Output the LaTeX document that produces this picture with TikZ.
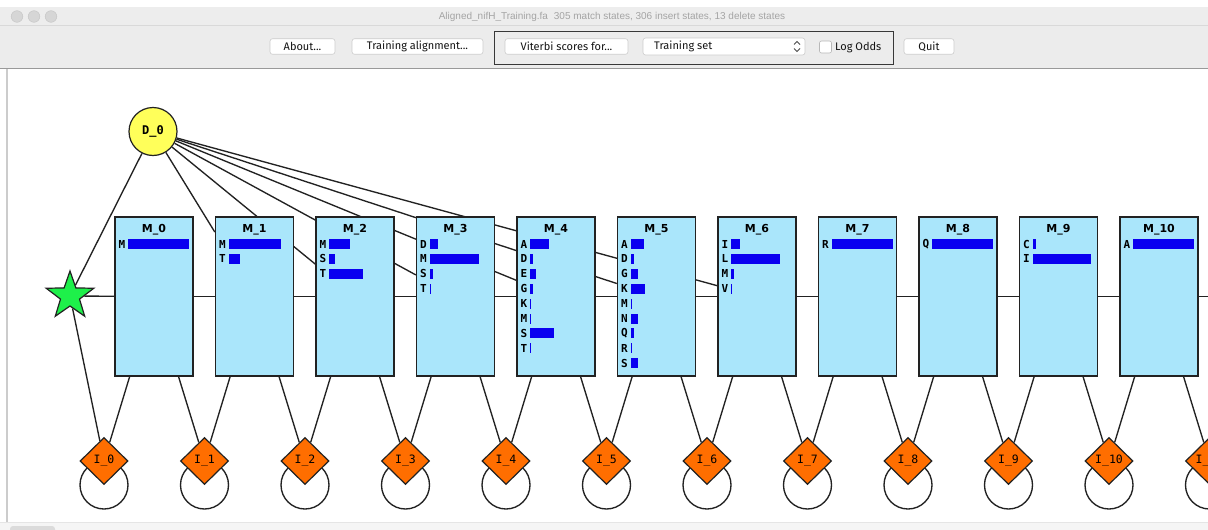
\documentclass[tikz,border=0pt]{standalone}
\usepackage{fontspec}
\setmainfont{Fira Sans}
\newfontfamily\monofont{DejaVu Sans Mono}
\newfontfamily\headfont{DejaVu Sans}
\newfontfamily\windowfont{Liberation Sans}
\usetikzlibrary{shapes.geometric}

\definecolor{boxfill}{HTML}{AAE6FB}
\definecolor{barblue}{HTML}{0A00F0}
\definecolor{delfill}{HTML}{FFFF5A}
\definecolor{insfill}{HTML}{FF6E00}
\definecolor{startfill}{HTML}{1EF04A}
\definecolor{panel}{HTML}{ECECEC}
\definecolor{titlegray}{HTML}{A4A4A4}
\definecolor{edge}{HTML}{222222}

\pgfdeclarelayer{chrome}
\pgfdeclarelayer{links}
\pgfsetlayers{chrome,links,main}

\tikzset{
  matchbox/.style={rectangle, draw=edge, line width=1.4pt, fill=boxfill,
    minimum width=78pt, minimum height=159pt, inner sep=0pt},
  delstate/.style={circle, draw=edge, line width=1.2pt, fill=delfill,
    minimum size=48pt, inner sep=0pt,
    font=\monofont\bfseries\fontsize{12}{14}\selectfont},
  insstate/.style={diamond, draw=edge, line width=1.2pt, fill=insfill,
    minimum width=48pt, minimum height=47pt, inner sep=0pt,
    font=\monofont\fontsize{11.5}{13}\selectfont},
  startstate/.style={star, star points=5, star point ratio=2.5,
    minimum size=50pt, inner sep=0pt, draw=edge, line width=1.2pt,
    fill=startfill},
  link/.style={draw=edge, line width=1.35pt},
  boxtitle/.style={inner sep=0pt, font=\headfont\bfseries\fontsize{11}{13}\selectfont},
  residue/.style={inner sep=0pt, font=\monofont\bfseries\fontsize{11}{13}\selectfont},
  btn/.style={rectangle, draw=black!20, fill=white, rounded corners=2.5pt,
    line width=0.6pt, inner sep=0pt, minimum height=15.5pt,
    font=\fontsize{11}{13}\selectfont, text=black!92},
  tbtext/.style={inner sep=0pt, font=\fontsize{11}{13}\selectfont, text=black!92},
}

\begin{document}
\begin{tikzpicture}[x=1pt,y=-1pt]
\useasboundingbox (0,0) rectangle (1208,530);

% ---------- window frame, title bar and toolbar ----------
\begin{pgfonlayer}{chrome}
  \fill[panel] (0,0) rectangle (1208,530);
  \fill[white] (0,0) rectangle (1208,7);
  \fill[black!7] (0,7) rectangle (1208,25);
  \draw[black!15, line width=0.8pt] (0,25.5) -- (1208,25.5);
  \foreach \tx in {17,34,51}
    \filldraw[fill=black!16, draw=black!22, line width=0.5pt] (\tx,16.5) circle[radius=5.8pt];
  \node[inner sep=0pt, text=titlegray, font=\windowfont\fontsize{10}{12}\selectfont]
    (wintitle) at (612,17)
    {Aligned\_nifH\_Training.fa\hspace{6pt}305 match states, 306 insert states, 13 delete states};

  \node[btn, minimum width=65pt] (about) at (302.5,46.5) {About...};
  \node[btn, minimum width=131pt] (trainaln) at (417.5,46.5) {Training alignment...};
  \draw[black!78, line width=1pt] (494,31) rectangle (893,64);
  \node[btn, minimum width=123pt] (viterbi) at (566.5,46.5) {Viterbi scores for...};
  \node[btn, minimum width=162pt, minimum height=17pt] (setmenu) at (724,46.5) {};
  \node[tbtext, anchor=west] (setlabel) at (654,46.5) {Training set};
  \draw[black!70, line width=0.8pt] (794,44.5) -- (797,41.5) -- (800,44.5);
  \draw[black!70, line width=0.8pt] (794,48.5) -- (797,51.5) -- (800,48.5);
  \node[rectangle, draw=black!28, fill=white, rounded corners=2pt, line width=0.6pt,
    minimum size=12pt, inner sep=0pt] (logbox) at (825.5,47) {};
  \node[tbtext, anchor=west] (loglabel) at (835,47.5) {Log Odds};
  \node[btn, minimum width=50pt] (quit) at (929,46.5) {Quit};
  \draw[black!40, line width=1pt] (0,68.5) -- (1208,68.5);

  % drawing canvas
  \fill[white] (0,69) rectangle (1208,522);
  \draw[black!20, line width=1.6pt] (7,69) -- (7,522);
  \fill[black!4] (0,522) rectangle (1208,530);
  \draw[black!10, line width=0.6pt] (0,522) -- (1208,522);
  \fill[black!14, rounded corners=3pt] (10,526) rectangle (55,536);
\end{pgfonlayer}

% ---------- states ----------
\node[delstate] (d0) at (153,131.5) {D\_0};
\node[startstate] (start) at (70,296) {};

\foreach \k/\rows in {
    0/{M/61},
    1/{M/52,T/11},
    2/{M/21,S/6,T/34},
    3/{D/8,M/49,S/3,T/1.3},
    4/{A/19,D/3,E/6,G/3,K/1.3,M/1.3,S/24,T/1.3},
    5/{A/13,D/3.3,G/7,K/14,M/1.3,N/7,Q/3.3,R/1.3,S/7},
    6/{I/9,L/49,M/3,V/1.3},
    7/{R/61},
    8/{Q/61},
    9/{C/3,I/58},
    10/{A/61}} {
  \pgfmathsetmacro\cx{154+100.5*\k}
  \node[matchbox] (m\k) at (\cx,296.5) {};
  \node[boxtitle] (t\k) at (\cx,229.5) {M\_\k};
  \foreach \l/\w [count=\i from 0] in \rows {
    \pgfmathsetmacro\ry{244+14.9*\i}
    \node[residue] at (\cx-32,\ry) {\l};
    \fill[barblue] (\cx-26,\ry-5) rectangle ++(\w,10);
  }
}
\coordinate (m11) at (1259.5,296.5);

\foreach \k in {0,...,11} {
  \pgfmathsetmacro\ix{104+100.5*\k}
  \node[insstate] (i\k) at (\ix,461) {I\_\k};
}

% ---------- transitions ----------
\begin{pgfonlayer}{links}
  \begin{scope}
    \clip (8,69) rectangle (1208,522);
    \draw[link] (start) -- (m0);
    \draw[link] (start) -- (d0);
    \draw[link] (start) -- (i0);
    \foreach \k in {1,...,6}
      \draw[link] (d0) -- (m\k);
    \foreach \k in {0,...,9} {
      \pgfmathtruncatemacro\n{\k+1}
      \draw[link] (m\k) -- (m\n);
    }
    \draw[link] (m10) -- (m11);
    \foreach \k in {0,...,10} {
      \pgfmathtruncatemacro\n{\k+1}
      \draw[link] (m\k) -- (i\k);
      \draw[link] (m\k) -- (i\n);
    }
    \foreach \k in {0,...,11}
      \draw[link] ([yshift=-24pt]i\k.center) circle[radius=24pt];
  \end{scope}
\end{pgfonlayer}
\end{tikzpicture}
\end{document}
